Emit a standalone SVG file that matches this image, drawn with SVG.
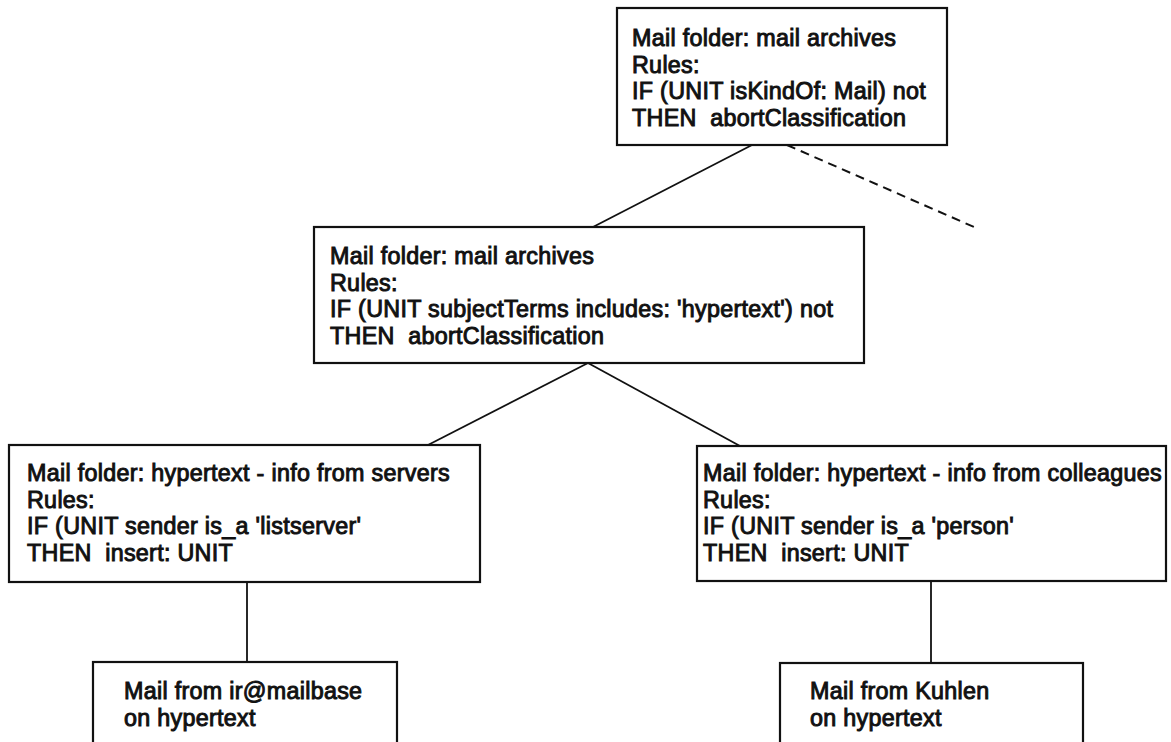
<svg xmlns="http://www.w3.org/2000/svg" width="1171" height="742" viewBox="0 0 1171 742">
<style>
.box{fill:none;stroke:#111;stroke-width:2.2}
.c{stroke:#111;stroke-width:1.8;fill:none}
.d{stroke:#111;stroke-width:2;fill:none;stroke-dasharray:9 6}
text{font-family:"Liberation Sans",Arial,sans-serif;font-size:23.3px;letter-spacing:0.3px;fill:#111;stroke:#111;stroke-width:0.95}
</style>
<rect width="1171" height="742" fill="#fff"/>
<g id="connectors">
<line class="c" x1="752" y1="145" x2="593" y2="227"/>
<line class="d" x1="787" y1="145" x2="974" y2="227"/>
<line class="c" x1="588" y1="363" x2="428" y2="445"/>
<line class="c" x1="588" y1="363" x2="740" y2="446"/>
<line class="c" x1="247" y1="582" x2="247" y2="662"/>
<line class="c" x1="931" y1="581" x2="931" y2="663"/>
</g>
<g id="top">
<rect class="box" x="617" y="8" width="330" height="137"/>
<text x="632" y="46">Mail folder: mail archives</text>
<text x="632" y="72.7">Rules:</text>
<text x="632" y="99.4">IF (UNIT isKindOf: Mail) not</text>
<text x="632" y="126.1" xml:space="preserve">THEN  abortClassification</text>
</g>
<g id="middle">
<rect class="box" x="314" y="227" width="550" height="136"/>
<text x="330" y="264">Mail folder: mail archives</text>
<text x="330" y="290.7">Rules:</text>
<text x="330" y="317.4">IF (UNIT subjectTerms includes: 'hypertext') not</text>
<text x="330" y="344.1" xml:space="preserve">THEN  abortClassification</text>
</g>
<g id="servers">
<rect class="box" x="9" y="445" width="471" height="137"/>
<text x="27" y="481">Mail folder: hypertext - info from servers</text>
<text x="27" y="507.7">Rules:</text>
<text x="27" y="534.4">IF (UNIT sender is_a 'listserver'</text>
<text x="27" y="561.1" xml:space="preserve">THEN  insert: UNIT</text>
</g>
<g id="colleagues">
<rect class="box" x="697" y="446" width="469" height="135"/>
<text x="703" y="481">Mail folder: hypertext - info from colleagues</text>
<text x="703" y="507.7">Rules:</text>
<text x="703" y="534.4">IF (UNIT sender is_a 'person'</text>
<text x="703" y="561.1" xml:space="preserve">THEN  insert: UNIT</text>
</g>
<g id="mailbase">
<rect class="box" x="93" y="662" width="304" height="100"/>
<text x="124" y="699">Mail from ir@mailbase</text>
<text x="124" y="726">on hypertext</text>
</g>
<g id="kuhlen">
<rect class="box" x="780" y="663" width="303" height="100"/>
<text x="810" y="699">Mail from Kuhlen</text>
<text x="810" y="726">on hypertext</text>
</g>
</svg>
